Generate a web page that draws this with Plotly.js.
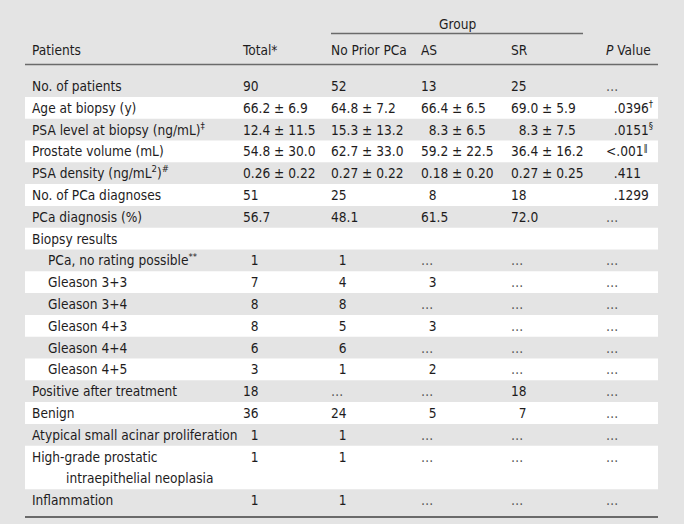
<!DOCTYPE html>
<html>
<head>
<meta charset="utf-8">
<script src="https://cdn.plot.ly/plotly-3.0.1.min.js"></script>
<style>body{margin:0;background:#e4e4e4;}</style>
</head>
<body>
<div id="plot" style="width:684px;height:524px;"></div>
<script>
// row labels (a "|" marks the wrapped second line)
var categories = ["No. of patients", "Age at biopsy (y)", "PSA level at biopsy (ng/mL)<sup>‡</sup>",
  "Prostate volume (mL)", "PSA density (ng/mL<sup>2</sup>)<sup>#</sup>", "No. of PCa diagnoses",
  "PCa diagnosis (%)", "Biopsy results", "PCa, no rating possible<sup>**</sup>", "Gleason 3+3",
  "Gleason 3+4", "Gleason 4+3", "Gleason 4+4", "Gleason 4+5", "Positive after treatment", "Benign",
  "Atypical small acinar proliferation", "High-grade prostatic|intraepithelial neoplasia", "Inflammation"];
var level = [0,0,0,0,0,0,0,0,1,1,1,1,1,1,0,0,0,0,0];
var headers = ["Patients", "Total*", "No Prior PCa", "AS", "SR", "<i>P</i> Value"];
var groupLabel = "Group";
// column values
var total = ["90","66.2 ± 6.9","12.4 ± 11.5","54.8 ± 30.0","0.26 ± 0.22","51","56.7","",
  "1","7","8","8","6","3","18","36","1","1","1"];
var noPrior = ["52","64.8 ± 7.2","15.3 ± 13.2","62.7 ± 33.0","0.27 ± 0.22","25","48.1","",
  "1","4","8","5","6","1","…","24","1","1","1"];
var asGroup = ["13","66.4 ± 6.5","8.3 ± 6.5","59.2 ± 22.5","0.18 ± 0.20","8","61.5","",
  "…","3","…","3","…","2","…","5","…","…","…"];
var srGroup = ["25","69.0 ± 5.9","8.3 ± 7.5","36.4 ± 16.2","0.27 ± 0.25","18","72.0","",
  "…","…","…","…","…","…","18","7","…","…","…"];
var pValue = ["…",".0396<sup>†</sup>",".0151<sup>§</sup>","&lt;.001<sup>‖</sup>",".411",".1299","…","",
  "…","…","…","…","…","…","…","…","…","…","…"];

// layout settings
var colX = [32, 243, 331, 421, 511, 606];
var indentX = [32, 48];
var wrapX = 66;
var tableL = 25, tableR = 658;
var pitch = 21.8, firstY = 86;
var textShift = 0.07;   // nudge text down a bit inside its band
var FIG = "\u2007";
var font = {family: "'Liberation Sans Narrow', 'DejaVu Sans Condensed', 'Arial Narrow', sans-serif", size: 13.6, color: "#1e1c1d"};

// slot (line index) of each row
var slots = [];
var s = 0;
categories.forEach(function (c) {
  slots.push(s);
  s += c.indexOf("|") >= 0 ? 2 : 1;
});

function fmtCell(v, isP) {
  if (v === "…") return '<span style="color:#555">…</span>';
  if (isP) return v.charAt(0) === "." ? FIG + v : v;
  if (/^\d(\.\d)?( |$)/.test(v)) return FIG + v;
  return v;
}

var traces = [];
function textTrace(xs, ys, texts) {
  traces.push({
    type: "scatter", mode: "text", x: xs, y: ys.map(function (y) { return y + textShift; }), text: texts,
    textposition: "middle right", textfont: font, hoverinfo: "skip", showlegend: false
  });
}

// labels
var lx = [], ly = [], lt = [];
categories.forEach(function (c, i) {
  var parts = c.split("|");
  lx.push(indentX[level[i]]); ly.push(slots[i]); lt.push(parts[0]);
  if (parts[1]) { lx.push(wrapX); ly.push(slots[i] + 1); lt.push(parts[1]); }
});
textTrace(lx, ly, lt);

[total, noPrior, asGroup, srGroup, pValue].forEach(function (col, k) {
  var xs = [], ys = [], ts = [];
  col.forEach(function (v, i) {
    if (v === "") return;
    xs.push(colX[k + 1]); ys.push(slots[i]); ts.push(fmtCell(v, k === 4));
  });
  textTrace(xs, ys, ts);
});

// header row
var headY = (50 - firstY) / pitch;
textTrace(colX, colX.map(function () { return headY; }), headers);

var yTop = -firstY / pitch, yBot = (524 - firstY) / pitch;
var groupY = (22 - firstY) / pitch;
var groupLineY = (33.5 - firstY) / pitch;
var headLineY = (64.5 - firstY) / pitch;
var botLineY = (517 - firstY) / pitch;

var shapes = [];
// white bands on every other row
categories.forEach(function (c, i) {
  if (i % 2 === 1) {
    var h = c.indexOf("|") >= 0 ? 2 : 1;
    shapes.push({type: "rect", xref: "x", yref: "y", layer: "below",
      x0: tableL, x1: tableR, y0: slots[i] - 0.5, y1: slots[i] - 0.5 + h,
      fillcolor: "#ffffff", line: {width: 0}});
  }
});
shapes.push({type: "line", xref: "x", yref: "y", x0: colX[2], x1: 583, y0: groupLineY, y1: groupLineY,
  line: {color: "#6a6a6a", width: 1.5}});
shapes.push({type: "line", xref: "x", yref: "y", x0: tableL, x1: tableR, y0: headLineY, y1: headLineY,
  line: {color: "#6a6a6a", width: 1.5}});
shapes.push({type: "line", xref: "x", yref: "y", x0: tableL, x1: tableR, y0: botLineY, y1: botLineY,
  line: {color: "#6a6a6a", width: 2}});

var layout = {
  width: 684, height: 524,
  margin: {l: 0, r: 0, t: 0, b: 0},
  paper_bgcolor: "#e4e4e4", plot_bgcolor: "rgba(0,0,0,0)",
  xaxis: {range: [0, 684], visible: false, fixedrange: true},
  yaxis: {range: [yBot, yTop], visible: false, fixedrange: true},
  shapes: shapes,
  annotations: [{xref: "x", yref: "y", x: 457, y: groupY + textShift, text: groupLabel, showarrow: false,
    font: font, xanchor: "center", yanchor: "middle"}]
};

Plotly.newPlot("plot", traces, layout, {displayModeBar: false, staticPlot: true});
</script>
</body>
</html>
